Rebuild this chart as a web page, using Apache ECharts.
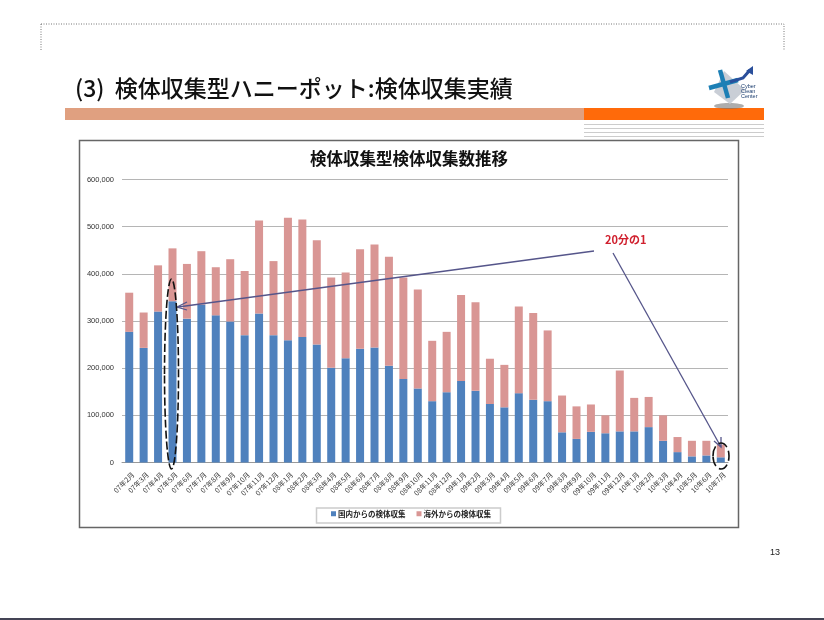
<!DOCTYPE html>
<html style="height: 100%">
<head>
<meta charset="utf-8">
<script src="https://cdn.jsdelivr.net/npm/echarts@6/dist/echarts.min.js"></script>
</head>
<body style="height: 100%; margin: 0; background: #fff">
<div id="container" style="width: 824px; height: 620px"></div>
<script>
var months = ['07年2月','07年3月','07年4月','07年5月','07年6月','07年7月','07年8月','07年9月','07年10月','07年11月','07年12月',
    '08年1月','08年2月','08年3月','08年4月','08年5月','08年6月','08年7月','08年8月','08年9月','08年10月','08年11月','08年12月',
    '09年1月','09年2月','09年3月','09年4月','09年5月','09年6月','09年7月','09年8月','09年9月','09年10月','09年11月','09年12月',
    '10年1月','10年2月','10年3月','10年4月','10年5月','10年6月','10年7月'];
var domestic = [277000,243000,320000,342000,305000,335000,312000,299000,270000,316000,270000,
    259000,266000,250000,201000,221000,241000,244000,205000,177000,157000,130000,149000,
    173000,152000,124000,117000,147000,133000,130000,64000,50000,65000,62000,66000,
    66000,75000,46000,22000,13000,15000,11000];
var overseas = [83000,75000,98000,112000,116000,113000,102000,132000,136000,197000,157000,
    260000,249000,221000,191000,182000,211000,218000,231000,215000,210000,128000,128000,
    182000,188000,96000,90000,184000,184000,150000,78000,69000,58000,38000,129000,
    71000,64000,54000,32000,33000,31000,27000];
var yTicks = [0,100000,200000,300000,400000,500000,600000];

var jpFont = '"Noto Sans CJK JP", sans-serif';
var dom = document.getElementById('container');
var myChart = echarts.init(dom);

// slide furniture and hand-drawn annotations, in page pixels
var graphics = [
    {type:'rect', shape:{x:41,y:24,width:743,height:40}, style:{fill:'none',stroke:'#777',lineWidth:1,lineDash:[1,1.5]}, z:1},
    {type:'rect', shape:{x:38,y:51,width:750,height:20}, style:{fill:'#fff'}, z:2},
    {type:'text', x:75, y:77, style:{text:'(3)  検体収集型ハニーポット:検体収集実績', font:'500 23px '+jpFont, fill:'#111'}, z:3},
    {type:'rect', shape:{x:65,y:108,width:519,height:12}, style:{fill:'#e0a080'}},
    {type:'rect', shape:{x:584,y:108,width:180,height:12}, style:{fill:'#ff6a0a'}},
    {type:'rect', shape:{x:584,y:124,width:180,height:1}, style:{fill:'#ccc'}},
    {type:'rect', shape:{x:584,y:128,width:180,height:1}, style:{fill:'#ccc'}},
    {type:'rect', shape:{x:584,y:132,width:180,height:1}, style:{fill:'#ccc'}},
    {type:'rect', shape:{x:584,y:136,width:180,height:1}, style:{fill:'#ccc'}},

    // logo
    {type:'ellipse', shape:{cx:729,cy:106,rx:15,ry:3}, style:{fill:'#777',opacity:0.6}, z:3},
    {type:'polygon', shape:{points:[[724,71],[745,90],[730,104],[714,92]]}, style:{fill:'#c9ced6'}, z:4},
    {type:'line', shape:{x1:709,y1:88,x2:738,y2:80}, style:{stroke:'#1c7fb5',lineWidth:4.5}, z:5},
    {type:'line', shape:{x1:720,y1:70,x2:728,y2:98}, style:{stroke:'#1c7fb5',lineWidth:4.5}, z:5},
    {type:'polyline', shape:{points:[[730,82],[743,78],[750,70]]}, style:{stroke:'#2a4f9b',lineWidth:3,fill:'none'}, z:5},
    {type:'polygon', shape:{points:[[753,66],[753,75],[746,71]]}, style:{fill:'#2a4f9b'}, z:5},
    {type:'text', x:741, y:84, style:{text:'Cyber\nClean\nCenter', font:'5.5px Arial, sans-serif', fill:'#1a3c6e', lineHeight:5}, z:6},

    // chart frame
    {type:'rect', shape:{x:79.5,y:140.5,width:659,height:387}, style:{fill:'#fff',stroke:'#666',lineWidth:1.5}, z:0, silent:true},

    // annotation
    {type:'text', x:605, y:234, style:{text:'20分の1', font:'bold 11px '+jpFont, fill:'#d0202e'}, z:20},
    {type:'line', shape:{x1:594,y1:251,x2:178,y2:307}, style:{stroke:'#55558a',lineWidth:1.3}, z:20},
    {type:'polyline', shape:{points:[[187,302],[177,307],[187,310]]}, style:{stroke:'#55558a',lineWidth:1.3,fill:'none'}, z:20},
    {type:'line', shape:{x1:613,y1:253,x2:721,y2:447}, style:{stroke:'#55558a',lineWidth:1.3}, z:20},
    {type:'polyline', shape:{points:[[714,441],[721,447],[721,437]]}, style:{stroke:'#55558a',lineWidth:1.3,fill:'none'}, z:20},
    {type:'ellipse', shape:{cx:171.5,cy:374,rx:7,ry:95}, style:{fill:'none',stroke:'#111',lineWidth:1.6,lineDash:[8,3]}, z:20},
    {type:'ellipse', shape:{cx:721,cy:456,rx:8,ry:13}, style:{fill:'none',stroke:'#111',lineWidth:1.6,lineDash:[10,4]}, z:20},

    {type:'rect', shape:{x:316.5,y:508,width:184,height:15}, style:{fill:'#fff',stroke:'#ccc',lineWidth:1.5}, z:1},
    {type:'text', x:770, y:548, style:{text:'13', font:'9px Arial, sans-serif', fill:'#222'}, z:3},
    {type:'rect', shape:{x:0,y:618,width:824,height:2}, style:{fill:'#445'}, z:3}
];

var option = {
    backgroundColor: '#fff',
    animation: false,
    title: {
        text: '検体収集型検体収集数推移',
        left: 404,
        top: 145,
        textAlign: 'center',
        textStyle: {fontFamily: jpFont, fontSize: 16.5, fontWeight: 'bold', color: '#111'}
    },
    legend: {
        data: ['国内からの検体収集', '海外からの検体収集'],
        left: 331,
        top: 510,
        padding: 0,
        itemWidth: 5,
        itemHeight: 5,
        itemGap: 11,
        icon: 'rect',
        textStyle: {fontFamily: jpFont, fontSize: 7.5, color: '#222', fontWeight: 'bold', padding: [0,0,0,-3]}
    },
    grid: {left: 122, top: 179.5, width: 606, height: 283},
    xAxis: {
        type: 'category',
        data: months,
        axisTick: {show: false},
        axisLine: {lineStyle: {color: '#999'}},
        axisLabel: {interval: 0, rotate: 45, fontFamily: jpFont, fontSize: 7, color: '#333', margin: 7, verticalAlign: 'top', lineHeight: 11}
    },
    yAxis: {
        type: 'value',
        min: yTicks[0],
        max: yTicks[yTicks.length - 1],
        interval: yTicks[1] - yTicks[0],
        axisLine: {show: false},
        axisTick: {show: false},
        axisLabel: {
            fontFamily: 'Arial, "Liberation Sans", sans-serif',
            fontSize: 7.5,
            color: '#333',
            margin: 8,
            formatter: function (v) { return v.toLocaleString('en-US'); }
        },
        splitLine: {lineStyle: {color: '#b5b5b5', width: 1}}
    },
    series: [
        {name: '国内からの検体収集', type: 'bar', stack: 'total', data: domestic, barWidth: 8, itemStyle: {color: '#4f81bd'}, z: 3},
        {name: '海外からの検体収集', type: 'bar', stack: 'total', data: overseas, barWidth: 8, itemStyle: {color: '#d99694'}, z: 3}
    ],
    graphic: {elements: graphics}
};
myChart.setOption(option);
</script>
</body>
</html>
